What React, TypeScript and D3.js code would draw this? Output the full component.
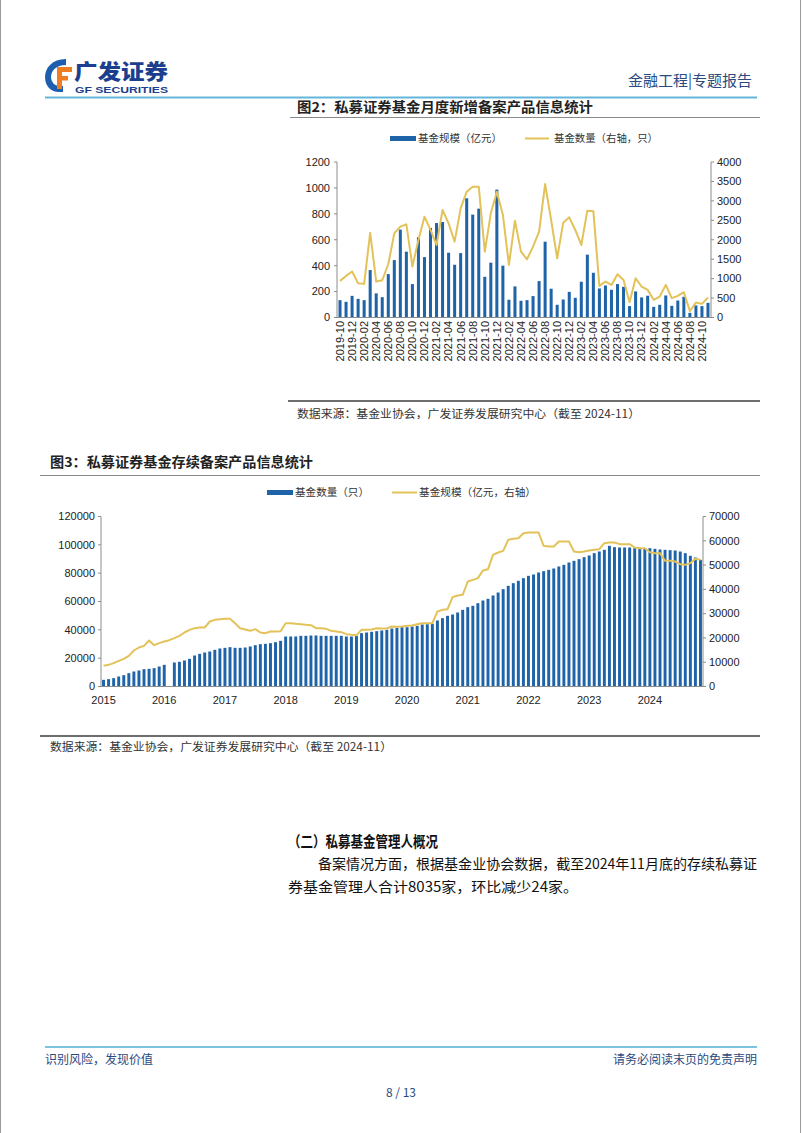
import React from 'react';
import * as d3 from 'd3';

// ---------- Chart 1 (图2) data ----------
const months1: string[] = d3.timeMonth
  .range(new Date(2019, 9, 1), new Date(2024, 11, 1))
  .map(d3.timeFormat('%Y-%m'));
// 基金规模（亿元）
const newScale: number[] = [
  134, 121, 167, 144, 134, 366, 186, 157, 335, 443, 678, 508, 258, 619, 466, 691, 729, 737, 500, 407,
  497, 920, 794, 840, 314, 423, 987, 400, 137, 240, 129, 134, 165, 281, 585, 222, 98, 139, 198, 152,
  276, 485, 345, 224, 247, 214, 258, 237, 88, 201, 155, 168, 82, 98, 170, 90, 131, 160, 36, 93, 88, 113,
];
// 基金数量（右轴，只）
const newCount: number[] = [
  942, 1070, 1182, 882, 865, 2183, 925, 959, 1370, 2166, 2337, 2397, 1310, 1995, 2594, 2252, 1866, 2765, 2423, 1952,
  2808, 3236, 3365, 3365, 1695, 2680, 3236, 2637, 1353, 2491, 1695, 1498, 1824, 2209, 3433, 2509, 1524, 2440, 2577, 2252,
  1866, 2748, 2731, 813, 925, 839, 1113, 967, 394, 1010, 796, 711, 454, 539, 839, 497, 557, 651, 163, 385, 351, 514,
];
const leftTicks1 = [0, 200, 400, 600, 800, 1000, 1200];
const rightTicks1 = [0, 500, 1000, 1500, 2000, 2500, 3000, 3500, 4000];

// ---------- Chart 2 (图3) data ----------
const months2: string[] = d3.timeMonth
  .range(new Date(2015, 0, 1), new Date(2024, 11, 1))
  .map(d3.timeFormat('%Y-%m'));
// 基金数量（只）
const stockCount: (number | null)[] = [
  4706, 5176, 5882, 7059, 8000, 9412, 10588, 11294, 12235, 12470, 12941, 14118,
  15294, null, 16941, 17412, 18353, 19529, 21882, 23059, 24000, 24706, 25882, 26824,
  27294, 27765, 27294, 27294, 27529, 28235, 29176, 29882, 30118, 30588, 31294, 32235,
  35294, 35294, 35294, 35765, 35765, 36000, 36000, 35765, 35765, 35765, 35765, 35765,
  35294, 35294, 35765, 37647, 38118, 38588, 39059, 39529, 40000, 40941, 41412, 41882,
  41882, 42353, 42824, 43765, 44000, 44235, 46588, 48235, 49882, 50824, 52235, 54118,
  56000, 56941, 58824, 60706, 61882, 64235, 66353, 68706, 71059, 72941, 74588, 76471,
  78118, 79059, 80471, 81412, 82353, 83294, 84706, 85882, 87529, 88706, 89882, 91294,
  92471, 94118, 95294, 96471, 99294, 98353, 98118, 98118, 98118, 97647, 97412, 97647,
  97647, 97176, 96706, 96471, 96235, 96000, 95294, 94118, 92235, 91059, 89412,
];
// 基金规模（亿元，右轴）
const stockScale: number[] = [
  8510, 8921, 9608, 10568, 11392, 12627, 14823, 16058, 16745, 18941, 17019, 17843,
  18529, 19078, 19901, 20862, 22234, 23333, 24019, 24293, 24293, 26764, 27450, 27724,
  27861, 27861, 26078, 24019, 23470, 22921, 23607, 22234, 21960, 22646, 22646, 22783,
  26078, 26078, 25803, 25666, 25391, 25254, 24019, 24019, 23744, 22921, 22646, 22372,
  21548, 21274, 21137, 23333, 23333, 23470, 24019, 23882, 23882, 24705, 24568, 24705,
  24980, 25117, 25666, 26078, 26078, 26078, 30881, 31567, 31842, 36783, 37469, 37744,
  43234, 43920, 44606, 47763, 48312, 54214, 55174, 55861, 60390, 60802, 61077, 63135,
  63409, 63409, 63409, 57919, 57645, 57645, 59704, 59704, 59704, 55586, 55311, 55586,
  55998, 56272, 56547, 59017, 59292, 59292, 58606, 58606, 58606, 57233, 56959, 56959,
  55311, 54900, 54900, 51743, 51743, 51468, 50370, 50096, 50782, 52566, 52155,
];
const yearLabels = ['2015', '2016', '2017', '2018', '2019', '2020', '2021', '2022', '2023', '2024'];
const leftTicks2 = [0, 20000, 40000, 60000, 80000, 100000, 120000];
const rightTicks2 = [0, 10000, 20000, 30000, 40000, 50000, 60000, 70000];

const BLUE = '#1f63a9';
const GOLD = '#e3c25a';
const AXIS = '#8c8c8c';
const NUM_FONT = '"Liberation Sans", Arial, sans-serif';
const CJK = '"Noto Sans CJK SC", "Noto Sans", sans-serif';
const NAVY = '#2a4a80';

export default function App() {
  // chart 1 scales
  const x1 = d3.scaleBand<string>().domain(months1).range([337, 711]).paddingInner(0.5).paddingOuter(0.25);
  const y1L = d3.scaleLinear().domain([0, 1200]).range([317.5, 162]);
  const y1R = d3.scaleLinear().domain([0, 4000]).range([317.5, 162]);
  const c1 = (m: string) => (x1(m) as number) + x1.bandwidth() / 2;
  const line1 = d3
    .line<number>()
    .x((_, i) => c1(months1[i]))
    .y((d) => y1R(d));

  // chart 2 scales
  const x2 = d3.scaleBand<string>().domain(months2).range([101, 703]).paddingInner(0.42).paddingOuter(0.21);
  const y2L = d3.scaleLinear().domain([0, 120000]).range([686.5, 516.5]);
  const y2R = d3.scaleLinear().domain([0, 70000]).range([686.5, 516.5]);
  const c2 = (m: string) => (x2(m) as number) + x2.bandwidth() / 2;
  const line2 = d3
    .line<number>()
    .x((_, i) => c2(months2[i]))
    .y((d) => y2R(d));

  return (
    <svg
      width={802}
      height={1133}
      viewBox="0 0 802 1133"
      style={{ position: 'absolute', left: 0, top: 0, background: '#fff' }}
    >
      <rect x={0} y={0} width={802} height={1133} fill="#fff" />
      <line x1={0.5} y1={0} x2={0.5} y2={1133} stroke="#9a9a9a" />
      <line x1={800.5} y1={0} x2={800.5} y2={1133} stroke="#9a9a9a" />

      {/* ---------- header ---------- */}
      <g>
        <path d="M66,59 C52,59 45,68 45,77 C45,86 51,92 59,92 L63,92 L63,86 L59,86 C55,86 51,82 51,77 C51,71 56,65 66,65 Z" fill="#1d5fae" />
        <rect x={57} y={67} width={15} height={5} fill="#ef7d22" />
        <rect x={57} y={67} width={5} height={22} fill="#ef7d22" />
        <rect x={57} y={76} width={11} height={4.5} fill="#ef7d22" />
        <text x={74} y={79} fontFamily={CJK} fontWeight={900} fontSize={21} fill="#1b3f8e" textLength={94} lengthAdjust="spacingAndGlyphs">广发证券</text>
        <text x={75} y={93} fontFamily={NUM_FONT} fontWeight={700} fontSize={8.4} fill="#1b3f8e" textLength={93} lengthAdjust="spacingAndGlyphs">GF SECURITIES</text>
        <text x={752} y={86} textAnchor="end" fontFamily={CJK} fontSize={15} fill={NAVY}>金融工程|专题报告</text>
        <line x1={45} y1={97.5} x2={757} y2={97.5} stroke="#64b5da" strokeWidth={2} />
      </g>

      {/* ---------- chart 1 ---------- */}
      <g>
        <text x={297} y={112} fontFamily={CJK} fontWeight={700} fontSize={13.5} fill="#222" textLength={296} lengthAdjust="spacingAndGlyphs">图2：私募证券基金月度新增备案产品信息统计</text>
        <line x1={290} y1={117.5} x2={760} y2={117.5} stroke="#8a8a8a" strokeWidth={1} />

        {/* legend */}
        <rect x={390} y={136} width={26} height={5} fill={BLUE} />
        <text x={418} y={142} fontFamily={CJK} fontSize={10.5} fill="#333" textLength={84} lengthAdjust="spacingAndGlyphs">基金规模（亿元）</text>
        <line x1={525} y1={138.5} x2={549} y2={138.5} stroke={GOLD} strokeWidth={2} />
        <text x={554} y={142} fontFamily={CJK} fontSize={10.5} fill="#333" textLength={104} lengthAdjust="spacingAndGlyphs">基金数量（右轴，只）</text>

        {/* bars */}
        {months1.map((m, i) => (
          <rect key={m} x={x1(m)} y={y1L(newScale[i])} width={x1.bandwidth()} height={y1L(0) - y1L(newScale[i])} fill={BLUE} />
        ))}
        <path d={line1(newCount) || ''} fill="none" stroke={GOLD} strokeWidth={2} strokeLinejoin="round" />

        {/* axes */}
        <line x1={337} y1={162} x2={337} y2={317.5} stroke={AXIS} />
        <line x1={711} y1={162} x2={711} y2={317.5} stroke={AXIS} />
        <line x1={337} y1={317.5} x2={711} y2={317.5} stroke={AXIS} />
        {leftTicks1.map((t) => (
          <g key={t}>
            <line x1={334} x2={337} y1={y1L(t)} y2={y1L(t)} stroke={AXIS} />
            <text x={330} y={y1L(t)} dy="0.35em" textAnchor="end" fontFamily={NUM_FONT} fontSize={11} fill="#222">{t}</text>
          </g>
        ))}
        {rightTicks1.map((t) => (
          <g key={t}>
            <line x1={711} x2={714} y1={y1R(t)} y2={y1R(t)} stroke={AXIS} />
            <text x={717} y={y1R(t)} dy="0.35em" fontFamily={NUM_FONT} fontSize={11} fill="#222">{t}</text>
          </g>
        ))}
        {months1.filter((_, i) => i % 2 === 0).map((m) => (
          <text key={m} transform={`translate(${c1(m)},321) rotate(-90)`} dy="0.35em" textAnchor="end" fontFamily={NUM_FONT} fontSize={11} fill="#222">{m}</text>
        ))}

        <line x1={288} y1={401} x2={760} y2={401} stroke="#6e6e6e" strokeWidth={2} />
        <text x={297} y={418} fontFamily={CJK} fontSize={11.5} fill="#333" textLength={343} lengthAdjust="spacingAndGlyphs">数据来源：基金业协会，广发证券发展研究中心（截至 2024-11）</text>
      </g>

      {/* ---------- chart 2 ---------- */}
      <g>
        <text x={50} y={467} fontFamily={CJK} fontWeight={700} fontSize={13.5} fill="#222" textLength={263} lengthAdjust="spacingAndGlyphs">图3：私募证券基金存续备案产品信息统计</text>
        <line x1={40} y1={475.5} x2={760} y2={475.5} stroke="#8a8a8a" strokeWidth={1} />

        <rect x={267} y={490} width={26} height={5} fill={BLUE} />
        <text x={295} y={496} fontFamily={CJK} fontSize={10.5} fill="#333" textLength={74} lengthAdjust="spacingAndGlyphs">基金数量（只）</text>
        <line x1={392} y1={492.5} x2={417} y2={492.5} stroke={GOLD} strokeWidth={2} />
        <text x={419} y={496} fontFamily={CJK} fontSize={10.5} fill="#333" textLength={117} lengthAdjust="spacingAndGlyphs">基金规模（亿元，右轴）</text>

        {months2.map((m, i) =>
          stockCount[i] == null ? null : (
            <rect key={m} x={x2(m)} y={y2L(stockCount[i] as number)} width={x2.bandwidth()} height={y2L(0) - y2L(stockCount[i] as number)} fill={BLUE} />
          )
        )}
        <path d={line2(stockScale) || ''} fill="none" stroke={GOLD} strokeWidth={2} strokeLinejoin="round" />

        <line x1={101} y1={516.5} x2={101} y2={686.5} stroke={AXIS} />
        <line x1={703} y1={516.5} x2={703} y2={686.5} stroke={AXIS} />
        <line x1={101} y1={686.5} x2={703} y2={686.5} stroke={AXIS} />
        {leftTicks2.map((t) => (
          <g key={t}>
            <line x1={98} x2={101} y1={y2L(t)} y2={y2L(t)} stroke={AXIS} />
            <text x={95} y={y2L(t)} dy="0.35em" textAnchor="end" fontFamily={NUM_FONT} fontSize={11} fill="#222">{t}</text>
          </g>
        ))}
        {rightTicks2.map((t) => (
          <g key={t}>
            <line x1={703} x2={706} y1={y2R(t)} y2={y2R(t)} stroke={AXIS} />
            <text x={709} y={y2R(t)} dy="0.35em" fontFamily={NUM_FONT} fontSize={11} fill="#222">{t}</text>
          </g>
        ))}
        {yearLabels.map((yr) => (
          <text key={yr} x={c2(`${yr}-01`)} y={704} textAnchor="middle" fontFamily={NUM_FONT} fontSize={11} fill="#222">{yr}</text>
        ))}

        <line x1={40} y1={736} x2={760} y2={736} stroke="#6e6e6e" strokeWidth={2} />
        <text x={50} y={751} fontFamily={CJK} fontSize={11.5} fill="#333" textLength={342} lengthAdjust="spacingAndGlyphs">数据来源：基金业协会，广发证券发展研究中心（截至 2024-11）</text>
      </g>

      {/* ---------- body text ---------- */}
      <text x={288} y={847} fontFamily={CJK} fontWeight={700} fontSize={15} fill="#111" textLength={150} lengthAdjust="spacingAndGlyphs">（二）私募基金管理人概况</text>
      <text x={318} y={869} fontFamily={CJK} fontSize={14} fill="#111" textLength={439} lengthAdjust="spacingAndGlyphs">备案情况方面，根据基金业协会数据，截至2024年11月底的存续私募证</text>
      <text x={288} y={892} fontFamily={CJK} fontSize={14} fill="#111" textLength={290} lengthAdjust="spacingAndGlyphs">券基金管理人合计8035家，环比减少24家。</text>

      {/* ---------- footer ---------- */}
      <line x1={45} y1={1047} x2={757} y2={1047} stroke="#7cc3df" strokeWidth={2} />
      <text x={45} y={1064} fontFamily={CJK} fontSize={12} fill={NAVY}>识别风险，发现价值</text>
      <text x={757} y={1064} textAnchor="end" fontFamily={CJK} fontSize={12} fill={NAVY}>请务必阅读末页的免责声明</text>
      <text x={401} y={1097} textAnchor="middle" fontFamily={CJK} fontSize={12} fill={NAVY}>8 / 13</text>
    </svg>
  );
}
